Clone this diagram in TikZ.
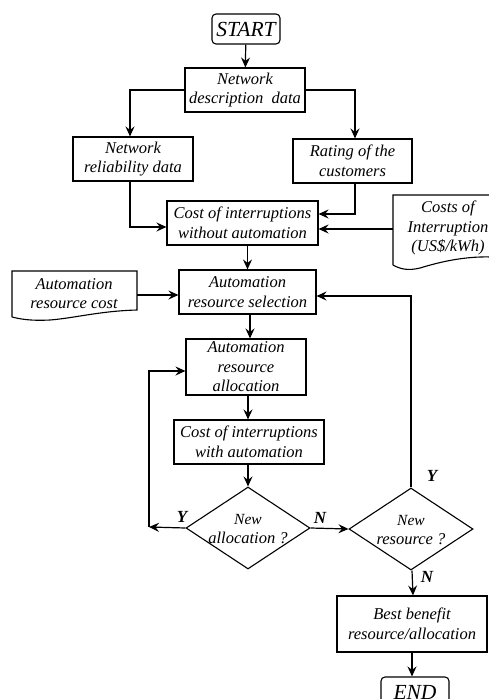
\documentclass[tikz,border=0pt]{standalone}
\usepackage{fontspec}
\setmainfont{Liberation Serif}
\usetikzlibrary{shapes.geometric,arrows.meta}
\begin{document}
\begin{tikzpicture}[x=1pt,y=-1pt,
  every node/.style={font=\fontsize{16.5}{19.5}\selectfont\itshape, align=center, inner sep=0pt},
  pbox/.style={draw, line width=1.1pt, minimum width=#1},
  term/.style={draw, line width=1.1pt, rounded corners=4pt, minimum width=68pt, minimum height=30pt, font=\fontsize{21.5}{24}\selectfont\itshape},
  dia/.style={draw, line width=1.1pt, diamond, minimum width=124pt, minimum height=82pt},
  lab/.style={font=\fontsize{17}{20}\selectfont\bfseries\itshape},
  arr/.style={line width=1.2pt, -{Stealth[length=10pt,width=9pt,inset=3.5pt]}},
  docshape/.style={draw, line width=1.1pt}
]
\useasboundingbox (0,0) rectangle (489,699);

% nodes
\node[term] (start) at (246,29) {START};
\node[pbox=120pt, minimum height=44pt] (desc) at (245,90) {Network\\description\ \ data};
\node[pbox=120pt, minimum height=44pt] (rel) at (133,159) {Network\\reliability data};
\node[pbox=119pt, minimum height=44pt] (rate) at (352.5,161) {Rating of the\\customers};
\node[pbox=151pt, minimum height=44pt] (cwo) at (242.5,223) {Cost of interruptions\\without automation};
\node[pbox=137pt, minimum height=44pt] (sel) at (247.5,292) {Automation\\resource selection};
\node[pbox=120pt, minimum height=56pt] (alloc) at (246,367) {Automation\\resource\\allocation};
\node[pbox=150pt, minimum height=44pt] (cwa) at (249,442) {Cost of interruptions\\with automation};
\node[dia] (d1) at (248,528) {};
\node (d1t) at (248,529) {\fontsize{15.5}{20}\selectfont New\\allocation ?};
\node[dia] (d2) at (411,529) {};
\node (d2t) at (411,530) {\fontsize{15.5}{20}\selectfont New\\resource ?};
\node[pbox=150pt, minimum height=56pt] (best) at (412,624) {Best benefit\\resource/allocation};
\node[term] (end) at (415,692) {END};

% document shapes
\draw[docshape] (393,265) -- (393,195) -- (505,195) -- (505,258)
  .. controls (470,254) and (440,262) .. (420,268)
  .. controls (408,271) and (400,269) .. (393,265);
\node (costs) at (448,228) {Costs of\\Interruption\\(US\$/kWh)};
\coordinate (costsw) at (393,229);

\draw[docshape] (12,317) -- (12,271) -- (137,271) -- (137,310)
  .. controls (100,311) and (75,318) .. (50,320)
  .. controls (30,321) and (20,319) .. (12,317);
\node (arc) at (74,293.5) {Automation\\resource cost};
\coordinate (arce) at (137,295);

% corner points
\coordinate (c1) at (149,527);
\coordinate (c2) at (149,371);
\coordinate (c3) at (411,296);

% connectors
\draw[arr] (start) -- (desc);
\draw[arr] (desc.west) -| ([xshift=-3pt]rel.north);
\draw[arr] (desc.east) -| ([xshift=2.5pt]rate.north);
\draw[arr] ([xshift=-3pt]rel.south) |- ([yshift=-4pt]cwo.west);
\draw[arr] ([xshift=2.5pt]rate.south) |- ([yshift=9pt]cwo.east);
\draw[arr] (costsw) -- (costsw -| cwo.east);
\draw[arr] (sel.north |- cwo.south) -- (sel.north);
\draw[arr] (arce) -- (arce -| sel.west);
\draw[arr] ([xshift=2.5pt]sel.south) -- ([xshift=4pt]alloc.north);
\draw[arr] ([xshift=2pt]alloc.south) -- ([xshift=-1pt]cwa.north);
\draw[arr] ([xshift=-1pt]cwa.south) -- (d1.north);
\draw[arr] (d1.west) -- (c1);
\draw[arr] (c1) -- (c2) -- (c2 -| alloc.west);
\draw[arr] (d1.east) -- (d2.west);
\draw[arr] (d2.north) -- (c3) -- (c3 -| sel.east);
\draw[arr] ([xshift=1pt]d2.south) -- ([xshift=1pt]best.north);
\draw[arr] (best.south) -- (best.south |- end.north);

% branch labels
\node[lab] at (182,517) {Y};
\node[lab] at (320,518) {N};
\node[lab] at (432,476) {Y};
\node[lab] at (427,577) {N};
\end{tikzpicture}
\end{document}
